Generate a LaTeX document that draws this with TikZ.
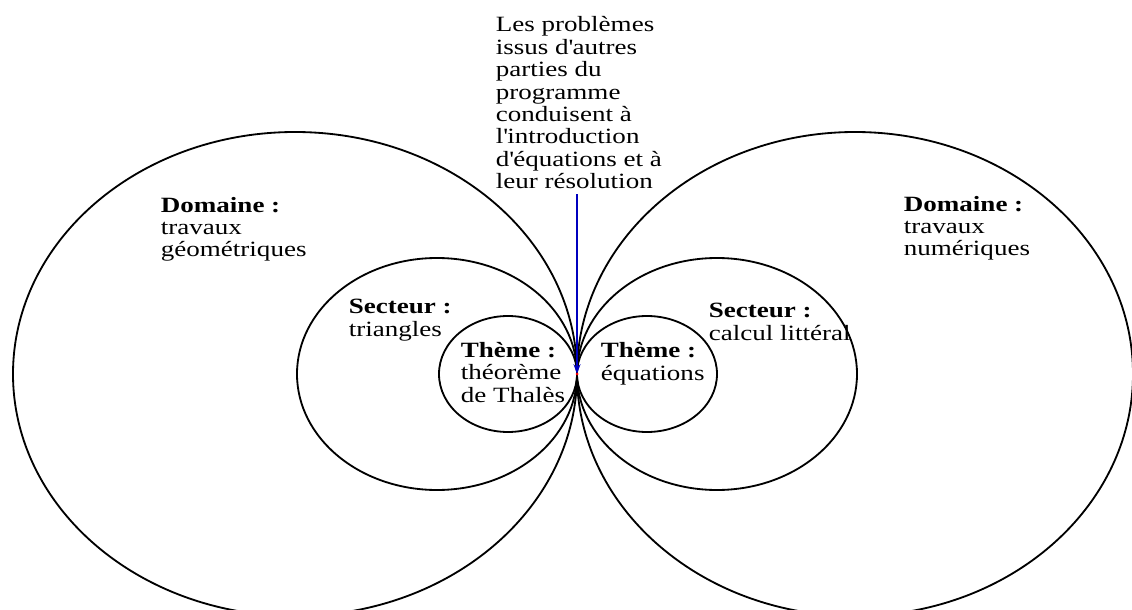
\documentclass[tikz,border=0pt]{standalone}
\usepackage{fontspec}
\setmainfont[FakeStretch=1.24]{Liberation Serif}
\usetikzlibrary{arrows.meta}
\begin{document}
\begin{tikzpicture}[x=0.025cm,y=-0.025cm,line width=1.3pt,
  etiquette/.style={anchor=base west,align=left,inner sep=0pt,font=\fontsize{15.5}{16}\selectfont}]
  \useasboundingbox (0,0) rectangle (1132,610);
  \coordinate (T) at (577,374);

  % domaines
  \draw (295,374) ellipse [x radius=282,y radius=242];
  \draw (855,374) ellipse [x radius=278,y radius=242];
  % secteurs
  \draw (437,374) ellipse [x radius=140,y radius=116];
  \draw (717,374) ellipse [x radius=140,y radius=116];
  % themes
  \draw (508,374) ellipse [x radius=69,y radius=58];
  \draw (647,374) ellipse [x radius=70,y radius=58];

  % base = derniere ligne
  \node[etiquette] (domaineG) at (160,257) {\textbf{Domaine :}\\travaux\\géométriques};
  \node[etiquette] (domaineD) at (903,256) {\textbf{Domaine :}\\travaux\\numériques};
  \node[etiquette] (secteurG) at (348,336) {\textbf{Secteur :}\\triangles};
  \node[etiquette] (secteurD) at (708,340) {\textbf{Secteur :}\\calcul littéral};
  \node[etiquette] (themeG) at (460,402) {\textbf{Thème :}\\théorème\\de Thalès};
  \node[etiquette] (themeD) at (600,380) {\textbf{Thème :}\\équations};

  \node[etiquette] (problemes) at (495,189) {Les problèmes\\issus d\textquotesingle autres\\parties du\\programme\\conduisent à\\l\textquotesingle introduction\\d\textquotesingle équations et à\\leur résolution};

  \draw[-{Stealth[length=7pt,width=5pt]},line width=1pt,color=blue!75!black] ([yshift=-3pt]T |- problemes.south) -- (T);
  \fill[red] (T) circle (1.5);
\end{tikzpicture}
\end{document}
